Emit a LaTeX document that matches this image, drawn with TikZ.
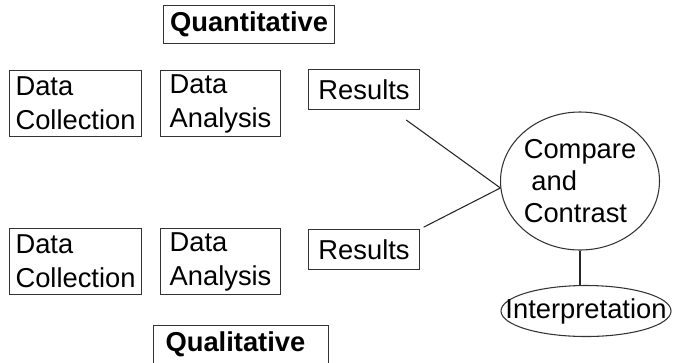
\documentclass[tikz,border=0pt]{standalone}
\usepackage{fontspec}
\setmainfont{Liberation Sans}
\usetikzlibrary{calc}
\usetikzlibrary{shapes.geometric}

\tikzset{
  boxtext/.style={font=\fontsize{20.5}{25.5}\selectfont},
  stagebox/.style={boxtext, draw=black!80, line width=0.8pt, anchor=north west, align=left, inner xsep=4.5pt, inner ysep=0pt},
  titlebox/.style={stagebox, font=\fontsize{20.5}{25.5}\selectfont\bfseries},
  roundnode/.style={boxtext, ellipse, draw=black!80, line width=0.8pt, inner sep=0pt, align=left},
  link/.style={draw=black!85, line width=0.8pt},
}

\begin{document}
\begin{tikzpicture}[x=0.75pt,y=0.75pt,yscale=-1,xscale=1]
\useasboundingbox (0,0) rectangle (673,362);

% Quantitative strand
\node [titlebox, minimum width=128.25pt, minimum height=28.5pt, align=center] (quant) at (163,5) {Quantitative};
\node [stagebox, minimum width=98.25pt, minimum height=49.5pt] (collA) at (9,70) {Data\\Collection};
\node [stagebox, minimum width=90pt, minimum height=49.5pt] (anaA) at (160,70) {Data\\Analysis};
\node [stagebox, minimum width=83.25pt, minimum height=30pt] (resA) at (308,69) {Results};

% Qualitative strand
\node [stagebox, minimum width=98.25pt, minimum height=49.5pt] (collB) at (9,228) {Data\\Collection};
\node [stagebox, minimum width=90pt, minimum height=49.5pt] (anaB) at (160,228) {Data\\Analysis};
\node [stagebox, minimum width=83.25pt, minimum height=30pt] (resB) at (308,229) {Results};
\node [titlebox, text width=113.25pt, minimum height=28.5pt, inner xsep=9pt] (qual) at (153,325) {Qualitative};

% Merging
\node [roundnode, minimum width=117pt, minimum height=103.5pt, font=\fontsize{20.5}{24}\selectfont] (merge) at (580,181) {Compare\\\ and\\Contrast};
\node [roundnode, minimum width=127.5pt, minimum height=38.25pt, label={[boxtext, inner sep=0pt]center:Interpretation}] (interp) at (586,311) {};

% Connectors
\draw [link, shorten <=12.75pt] (resA) -- (merge.185);
\draw [link, shorten <=3pt] (resB.north east) -- (merge.185);
\draw [link] (merge.south) -- (merge.south |- interp.north);

\end{tikzpicture}
\end{document}
